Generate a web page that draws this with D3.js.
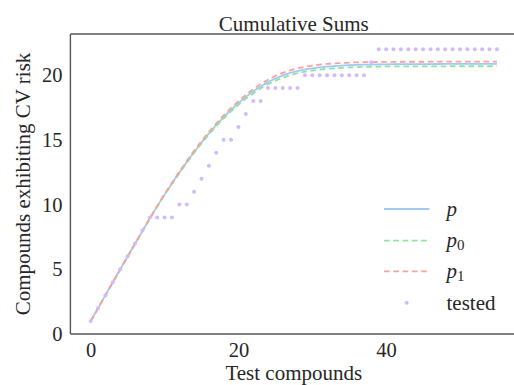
<!DOCTYPE html>
<html>
<head>
<meta charset="utf-8">
<script src="https://cdn.jsdelivr.net/npm/d3@7/dist/d3.min.js"></script>
<style>
  html, body { margin: 0; padding: 0; background: #fff; }
  svg { display: block; }
  text { font-family: "Liberation Serif", "DejaVu Serif", serif; fill: #262626; }
</style>
</head>
<body>
<div id="chart"></div>
<script>
// Expected cumulative counts (model p and its two bounds) and the observed tally
const p = [1, 2, 3, 4, 5, 5.99, 6.97, 7.95, 8.92, 9.86, 10.77, 11.63, 12.47, 13.28, 14.06, 14.8,
  15.5, 16.15, 16.76, 17.32, 17.84, 18.32, 18.75, 19.13, 19.46, 19.74, 19.98, 20.17, 20.32, 20.44,
  20.53, 20.6, 20.66, 20.7, 20.74, 20.77, 20.79, 20.81, 20.82, 20.83, 20.84, 20.845, 20.85, 20.852,
  20.855, 20.857, 20.86, 20.862, 20.864, 20.865, 20.866, 20.867, 20.868, 20.869, 20.87, 20.87];
const p0 = [1, 2, 3, 4, 4.99, 5.98, 6.96, 7.93, 8.89, 9.83, 10.73, 11.59, 12.42, 13.22, 13.99, 14.72,
  15.41, 16.05, 16.65, 17.2, 17.71, 18.18, 18.6, 18.97, 19.3, 19.58, 19.81, 20.0, 20.15, 20.27,
  20.36, 20.43, 20.49, 20.53, 20.57, 20.6, 20.62, 20.64, 20.65, 20.66, 20.67, 20.672, 20.675, 20.677,
  20.68, 20.682, 20.684, 20.685, 20.686, 20.687, 20.688, 20.689, 20.69, 20.69, 20.69, 20.69];
const p1 = [1, 2, 3, 4, 5, 6, 6.99, 7.97, 8.95, 9.9, 10.82, 11.69, 12.54, 13.36, 14.15, 14.9,
  15.61, 16.27, 16.89, 17.46, 17.99, 18.48, 18.92, 19.31, 19.65, 19.94, 20.18, 20.37, 20.53, 20.65,
  20.74, 20.82, 20.87, 20.91, 20.94, 20.97, 20.99, 21.0, 21.01, 21.02, 21.03, 21.032, 21.034, 21.035,
  21.036, 21.037, 21.038, 21.039, 21.04, 21.04, 21.04, 21.04, 21.04, 21.04, 21.04, 21.04];
const tested = [1, 2, 3, 4, 5, 6, 7, 8, 9, 9, 9, 9, 10, 10, 11, 12, 13, 14, 15, 15, 16, 17, 18, 18,
  19, 19, 19, 19, 19, 20, 20, 20, 20, 20, 20, 20, 20, 20, 21,
  22, 22, 22, 22, 22, 22, 22, 22, 22, 22, 22, 22, 22, 22, 22, 22, 22];

const xTicks = [0, 20, 40];
const yTicks = [0, 5, 10, 15, 20];
const titleText = "Cumulative Sums";
const xLabel = "Test compounds";
const yLabel = "Compounds exhibiting CV risk";

const colors = { p: "#a1c9f4", p0: "#8de5a1", p1: "#ff9f9b", tested: "#d0bbff" };

const W = 514, H = 385;
const svg = d3.select("#chart").append("svg").attr("width", W).attr("height", H);

const x = d3.scaleLinear().domain([-2.75, 57.75]).range([70.4, 517.2]);
const y = d3.scaleLinear().domain([0, 23.18]).range([334, 34]);

// frame
const spine = "#555";
const [x0, x1] = x.range();
[[x0, 34, x0, 334], [x0, 334, x1, 334], [x0, 34, x1, 34], [x1, 34, x1, 334]].forEach(s => {
  svg.append("line").attr("x1", s[0]).attr("y1", s[1]).attr("x2", s[2]).attr("y2", s[3])
    .attr("stroke", spine).attr("stroke-width", 1.4);
});

// axes without tick marks
const xAxis = svg.append("g").attr("transform", "translate(0,334)")
  .call(d3.axisBottom(x).tickValues(xTicks).tickSize(0).tickPadding(8).tickFormat(d3.format("d")));
xAxis.select(".domain").remove();
xAxis.selectAll("text").attr("font-size", 20.5).attr("fill", "#262626").attr("dy", "0.71em");

const yAxis = svg.append("g").attr("transform", "translate(" + x0 + ",0)")
  .call(d3.axisLeft(y).tickValues(yTicks).tickSize(0).tickPadding(8).tickFormat(d3.format("d")));
yAxis.select(".domain").remove();
yAxis.selectAll("text").attr("font-size", 20.5).attr("fill", "#262626");

const cx = (x0 + x1) / 2;
svg.append("text").attr("x", cx).attr("y", 30.5).attr("text-anchor", "middle")
  .attr("font-size", 21).text(titleText);
svg.append("text").attr("x", cx).attr("y", 380).attr("text-anchor", "middle")
  .attr("font-size", 21).text(xLabel);
svg.append("text").attr("transform", "translate(30," + ((34 + 334) / 2) + ") rotate(-90)")
  .attr("text-anchor", "middle").attr("font-size", 21).text(yLabel);

// series
const plot = svg.append("g");
const line = d3.line().x((d, i) => x(i)).y(d => y(d));
plot.append("path").datum(p).attr("d", line).attr("fill", "none")
  .attr("stroke", colors.p).attr("stroke-width", 1.8);
plot.append("path").datum(p0).attr("d", line).attr("fill", "none")
  .attr("stroke", colors.p0).attr("stroke-width", 1.8).attr("stroke-dasharray", "5.6,3.7");
plot.append("path").datum(p1).attr("d", line).attr("fill", "none")
  .attr("stroke", colors.p1).attr("stroke-width", 1.8).attr("stroke-dasharray", "5.6,3.7");
plot.selectAll("circle.tested").data(tested).enter().append("circle")
  .attr("class", "tested")
  .attr("cx", (d, i) => x(i)).attr("cy", d => y(d)).attr("r", 2)
  .attr("fill", colors.tested);

// legend
const lg = svg.append("g");
const items = [
  { key: "p", sub: null, color: colors.p, dash: null, yy: 209 },
  { key: "p", sub: "0", color: colors.p0, dash: "5.6,3.7", yy: 240.7 },
  { key: "p", sub: "1", color: colors.p1, dash: "5.6,3.7", yy: 271.3 },
];
items.forEach(it => {
  const l = lg.append("line").attr("x1", 384).attr("x2", 429.5).attr("y1", it.yy).attr("y2", it.yy)
    .attr("stroke", it.color).attr("stroke-width", 1.8);
  if (it.dash) l.attr("stroke-dasharray", it.dash);
  const t = lg.append("text").attr("x", 446.5).attr("y", it.yy + 6.5).attr("font-size", 21);
  t.append("tspan").attr("font-style", "italic").text(it.key);
  if (it.sub) t.append("tspan").attr("font-size", 15).attr("dy", 3).text(it.sub);
});
lg.append("circle").attr("cx", 406.7).attr("cy", 302.7).attr("r", 2).attr("fill", colors.tested);
lg.append("text").attr("x", 446.5).attr("y", 309.5).attr("font-size", 21).text("tested");
</script>
</body>
</html>
